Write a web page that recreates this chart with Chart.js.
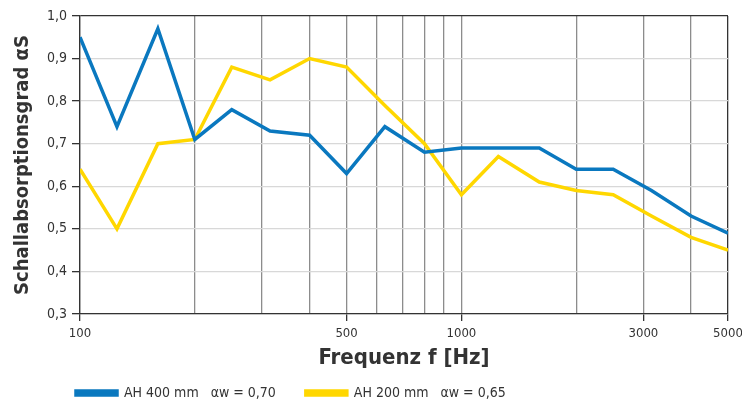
<!DOCTYPE html>
<html>
<head>
<meta charset="utf-8">
<script src="https://cdn.jsdelivr.net/npm/chart.js@4/dist/chart.umd.min.js"></script>
<style>
  html, body { margin: 0; padding: 0; background: #fff; }
  #wrap { width: 742px; height: 402px; }
</style>
</head>
<body>
<div id="wrap"><canvas id="myChart" width="742" height="402"></canvas></div>
<script>
// third-octave band centre frequencies
var freq = [100, 125, 160, 200, 250, 315, 400, 500, 630, 800, 1000, 1250, 1600, 2000, 2500, 3150, 4000, 5000];
var ah400 = [0.95, 0.74, 0.97, 0.71, 0.78, 0.73, 0.72, 0.63, 0.74, 0.68, 0.69, 0.69, 0.69, 0.64, 0.64, 0.59, 0.53, 0.49];
var ah200 = [0.64, 0.50, 0.70, 0.71, 0.88, 0.85, 0.90, 0.88, 0.79, 0.70, 0.58, 0.67, 0.61, 0.59, 0.58, 0.53, 0.48, 0.45];
var seriesNames = ["AH 400 mm   \u03B1w = 0,70     ", "AH 200 mm   \u03B1w = 0,65"];
var gridFreq = [100, 200, 300, 400, 500, 600, 700, 800, 900, 1000, 2000, 3000, 4000, 5000];
var labeledFreq = [100, 500, 1000, 3000, 5000];

var FONT = "'DejaVu Sans Condensed', 'Liberation Sans Narrow', sans-serif";

function pts(ys) {
    var out = [];
    for (var i = 0; i < freq.length; i++) {
        out.push({x: freq[i], y: ys[i]});
    }
    return out;
}

// move the legend to where the original has it
var legendShift = {
    id: 'legendShift',
    afterLayout: function(chart) {
        chart.legend.left += 66;
        chart.legend.top += 5;
    }
};

var ctx = document.getElementById("myChart");
var myChart = new Chart(ctx, {
    type: 'line',
    data: {
        datasets: [{
            label: seriesNames[0],
            data: pts(ah400),
            borderColor: '#0a78bf',
            backgroundColor: '#0a78bf',
            borderWidth: 3.5,
            pointRadius: 0,
            tension: 0
        }, {
            label: seriesNames[1],
            data: pts(ah200),
            borderColor: '#ffd700',
            backgroundColor: '#ffd700',
            borderWidth: 3.5,
            pointRadius: 0,
            tension: 0
        }]
    },
    options: {
        responsive: false,
        animation: false,
        layout: { padding: { top: 16, right: 14, left: 0, bottom: -3 } },
        plugins: {
            tooltip: { enabled: false },
            legend: {
                position: 'bottom',
                align: 'start',
                labels: {
                    boxWidth: 41,
                    boxHeight: 4,
                    padding: 10,
                    color: '#333',
                    font: { family: FONT, size: 14 }
                }
            }
        },
        scales: {
            x: {
                type: 'logarithmic',
                min: 100,
                max: 5000,
                afterBuildTicks: function(scale) {
                    scale.ticks = gridFreq.map(function(v) { return {value: v}; });
                },
                afterFit: function(scale) {
                    scale.paddingRight = 0;
                    scale.height -= 3;
                },
                ticks: {
                    autoSkip: false,
                    maxRotation: 0,
                    color: '#333',
                    padding: 5,
                    font: { family: FONT, size: 13 },
                    callback: function(v) {
                        return labeledFreq.indexOf(v) >= 0 ? String(v) : '';
                    }
                },
                grid: {
                    color: function(c) {
                        return c.tick && c.tick.value === 5000 ? '#333' : '#8c8c8c';
                    },
                    lineWidth: 1.3,
                    tickLength: 7,
                    tickColor: function(c) {
                        return c.tick && labeledFreq.indexOf(c.tick.value) >= 0 ? '#333' : 'rgba(0,0,0,0)';
                    }
                },
                border: { color: '#333', width: 1.3 },
                title: {
                    display: true,
                    text: 'Frequenz f [Hz]',
                    color: '#333',
                    font: { family: FONT, size: 22, weight: 'bold' },
                    padding: { top: 1, bottom: 0 }
                }
            },
            y: {
                min: 0.3,
                max: 1.0,
                ticks: {
                    stepSize: 0.1,
                    color: '#333',
                    padding: 5,
                    font: { family: FONT, size: 14 },
                    callback: function(v) { return v.toFixed(1).replace('.', ','); }
                },
                grid: {
                    color: function(c) {
                        return c.tick && Math.abs(c.tick.value - 1.0) < 1e-6 ? '#333' : '#d8d8d8';
                    },
                    lineWidth: 1.3,
                    tickLength: 8,
                    tickColor: '#333'
                },
                border: { color: '#333', width: 1.3 },
                title: {
                    display: true,
                    text: 'Schallabsorptionsgrad \u03B1S',
                    color: '#333',
                    font: { family: FONT, size: 20, weight: 'bold' },
                    padding: { top: 11, bottom: 4 }
                },
                afterFit: function(scale) {
                    scale.width = 80;
                }
            }
        }
    },
    plugins: [legendShift]
});
</script>
</body>
</html>
